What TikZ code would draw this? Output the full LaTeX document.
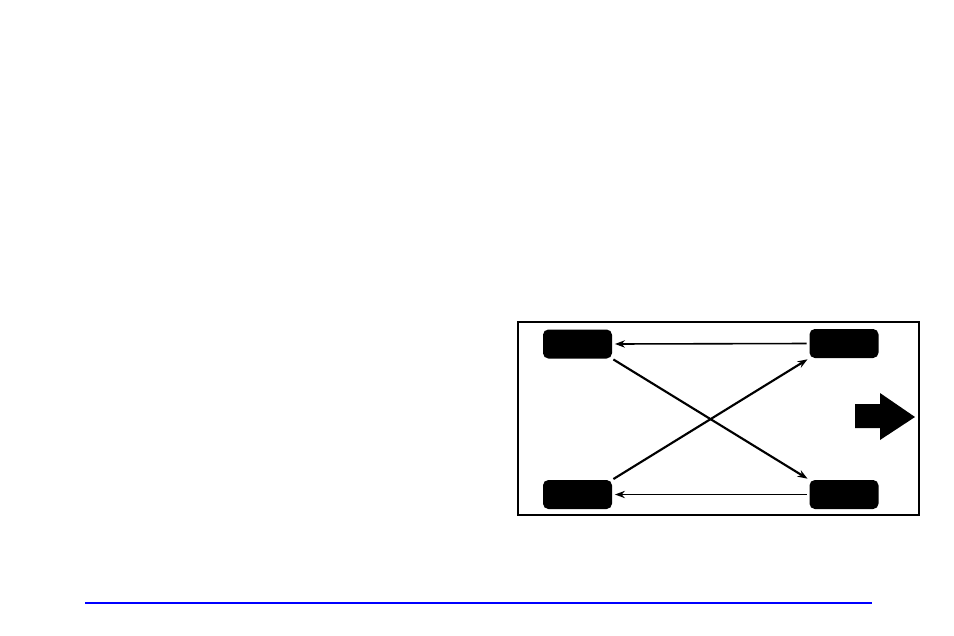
\documentclass[tikz,border=0pt]{standalone}
\usepackage{tikz}
\usetikzlibrary{arrows.meta}

\begin{document}
\begin{tikzpicture}[x=0.75pt,y=-0.75pt, tire/.style={fill=black,rounded corners=4pt,minimum width=51.75pt,minimum height=21.75pt,inner sep=0pt}, move/.style={-{Stealth[length=7.5pt,width=5.5pt]},line width=1.6pt}]
    \useasboundingbox (0,0) rectangle (954,636);
    \draw[line width=0.9pt] (518,322) rectangle (919,515);

    \node[tire] (tl) at (577.5,344) {};
    \node[tire] (tr) at (844,343.5) {};
    \node[tire] (bl) at (577.5,494.5) {};
    \node[tire] (br) at (844,494.5) {};

    \draw[move,line width=1.2pt,shorten <=2pt,shorten >=2pt] (tr.west) -- (tl.east);
    \draw[move,line width=1.2pt,shorten <=2pt,shorten >=2pt] (br.west) -- (bl.east);
    \draw[move,shorten <=1pt,shorten >=1.5pt] (tl.south east) -- (br.north west);
    \draw[move,shorten <=1pt,shorten >=1.5pt] (bl.north east) -- (tr.south west);

    \fill (855,404) -- (880,404) -- (880,393) -- (915,417) -- (880,440) -- (880,428) -- (855,428) -- cycle;
    \draw[blue,line width=1.6pt] (85,603) -- (872,603);
  \end{tikzpicture}
\end{document}
